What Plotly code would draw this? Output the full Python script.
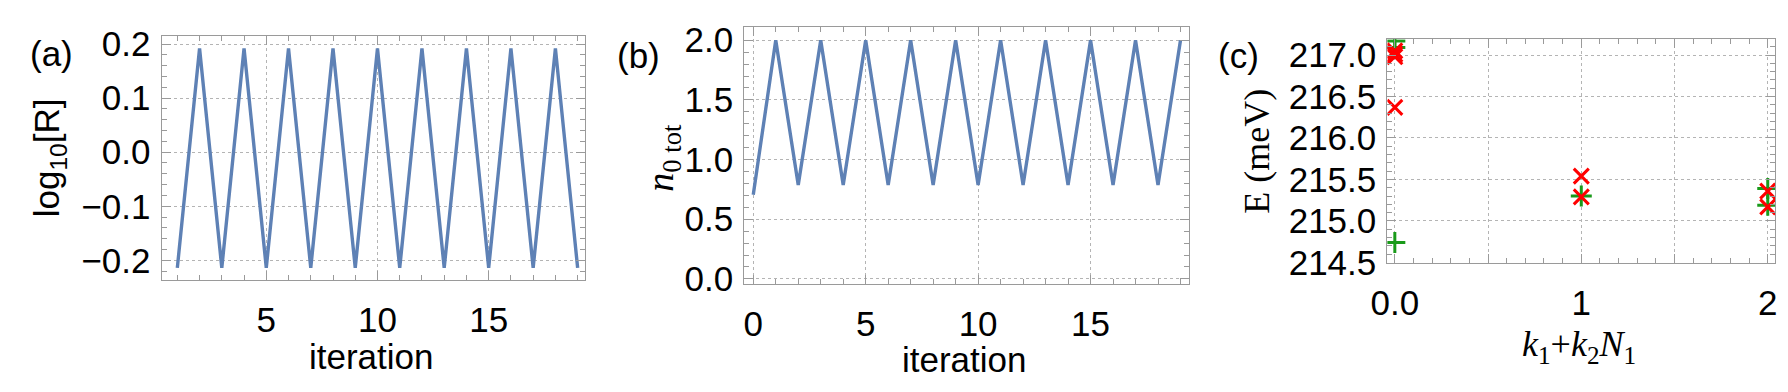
import plotly.graph_objects as go
from plotly.subplots import make_subplots

# panel (a): log10[R] vs iteration
a_iter = [1, 2, 3, 4, 5, 6, 7, 8, 9, 10, 11, 12, 13, 14, 15, 16, 17, 18, 19]
a_log10R = [-0.214, 0.192, -0.214, 0.192, -0.214, 0.192, -0.214, 0.192, -0.214, 0.192,
            -0.214, 0.192, -0.214, 0.192, -0.214, 0.192, -0.214, 0.192, -0.214]

# panel (b): n0 tot vs iteration
b_iter = [0, 1, 2, 3, 4, 5, 6, 7, 8, 9, 10, 11, 12, 13, 14, 15, 16, 17, 18, 19]
b_n0tot = [0.705, 2.0, 0.787, 2.0, 0.787, 2.0, 0.787, 2.0, 0.787, 2.0,
           0.787, 2.0, 0.787, 2.0, 0.787, 2.0, 0.787, 2.0, 0.787, 2.0]

# panel (c): energies vs k1+k2N1
c_green_k = [0, 0, 0, 1, 2, 2]
c_green_E = [217.17, 217.09, 214.74, 215.30, 215.39, 215.19]
c_red_k = [0, 0, 0, 0, 1, 1, 2, 2]
c_red_E = [217.05, 217.01, 216.98, 216.37, 215.54, 215.29, 215.36, 215.17]

W, H = 1788, 392
BLUE = "#5e81b5"
FRAME = "#9a9a9a"
GRID = "#b4b4b4"
TICKFONT = dict(family="Liberation Sans, Arial", size=35, color="black")

fig = make_subplots(rows=1, cols=3)

fig.add_trace(go.Scatter(x=a_iter, y=a_log10R, mode="lines",
                         line=dict(color=BLUE, width=3.4)), row=1, col=1)
fig.add_trace(go.Scatter(x=b_iter, y=b_n0tot, mode="lines",
                         line=dict(color=BLUE, width=3.4)), row=1, col=2)
fig.add_trace(go.Scatter(x=c_green_k, y=c_green_E, mode="markers",
                         marker=dict(symbol="cross-thin", size=15,
                                     line=dict(color="#1a9a1a", width=3))), row=1, col=3)
fig.add_trace(go.Scatter(x=c_red_k, y=c_red_E, mode="markers",
                         marker=dict(symbol="x-thin", size=15,
                                     line=dict(color="#ff0000", width=3))), row=1, col=3)


def px_dom(a, b, total):
    return [a / total, b / total]


def ydom(top, bottom):
    return [1 - bottom / H, 1 - top / H]


common = dict(showline=True, linecolor=FRAME, linewidth=1.2, mirror="allticks",
              ticks="inside", ticklen=9, tickcolor=FRAME, tickwidth=1,
              showgrid=True, gridcolor=GRID, griddash="dot", gridwidth=1.2,
              zeroline=False, tickfont=TICKFONT)

fig.update_xaxes(common, ticklabelstandoff=9)
fig.update_yaxes(common, ticklabelstandoff=3)

fig.update_xaxes(domain=px_dom(138, 566, W), range=[0.29, 19.33],
                 tickvals=[5, 10, 15],
                 minor=dict(ticks="inside", ticklen=5, dtick=1, tickcolor=FRAME, showgrid=False),
                 row=1, col=1)
fig.update_yaxes(domain=ydom(18, 283), range=[-0.237, 0.2155],
                 tickvals=[-0.2, -0.1, 0.0, 0.1, 0.2],
                 ticktext=["\u22120.2", "\u22120.1", "0.0", "0.1", "0.2"],
                 minor=dict(ticks="inside", ticklen=5, dtick=0.02, tick0=0, tickcolor=FRAME, showgrid=False),
                 row=1, col=1)

fig.update_xaxes(domain=px_dom(727, 1177, W), range=[-0.4, 19.4],
                 tickvals=[0, 5, 10, 15],
                 minor=dict(ticks="inside", ticklen=5, dtick=1, tickcolor=FRAME, showgrid=False),
                 row=1, col=2)
fig.update_yaxes(domain=ydom(9, 287), range=[-0.043, 2.108],
                 tickvals=[0.0, 0.5, 1.0, 1.5, 2.0],
                 ticktext=["0.0", "0.5", "1.0", "1.5", "2.0"],
                 minor=dict(ticks="inside", ticklen=5, dtick=0.1, tick0=0, tickcolor=FRAME, showgrid=False),
                 row=1, col=2)

fig.update_xaxes(domain=px_dom(1377, 1769, W), range=[-0.04, 2.04],
                 tickvals=[0, 0.5, 1, 1.5, 2], ticktext=["0.0", "", "1", "", "2"],
                 minor=dict(ticks="inside", ticklen=5, dtick=0.1, tick0=0, tickcolor=FRAME, showgrid=False),
                 row=1, col=3)
fig.update_yaxes(domain=ydom(22, 264), range=[214.495, 217.19],
                 tickvals=[214.5, 215.0, 215.5, 216.0, 216.5, 217.0],
                 ticktext=["214.5", "215.0", "215.5", "216.0", "216.5", "217.0"],
                 minor=dict(ticks="inside", ticklen=5, dtick=0.1, tick0=214.5, tickcolor=FRAME, showgrid=False),
                 row=1, col=3)

sans = dict(family="Liberation Sans, Arial", size=35, color="black")
serif = dict(family="Liberation Serif, Times New Roman", size=36, color="black")


def note(x, y, text, font, angle=0):
    fig.add_annotation(x=x / W, y=1 - y / H, xref="paper", yref="paper", text=text,
                       showarrow=False, font=font, textangle=angle,
                       xanchor="center", yanchor="middle")


note(27, 37, "(a)", sans)
note(620, 40, "(b)", sans)
note(1227, 39, "(c)", sans)

note(350, 366, "iteration", sans)
note(950, 369, "iteration", sans)
note(1571, 355, "<i>k</i><sub>1</sub>+<i>k</i><sub>2</sub><i>N</i><sub>1</sub>", serif)

note(24, 150, "log<sub>10</sub>[R]", sans, -90)
note(644, 150, "<i>n</i><sub>0 tot</sub>", dict(family="Liberation Serif", size=38, color="black"), -90)
note(1245, 143, "E (meV)", serif, -90)

fig.update_layout(width=W, height=H, margin=dict(l=0, r=0, t=0, b=0),
                  paper_bgcolor="white", plot_bgcolor="white", showlegend=False)

fig.write_html("out.html")
